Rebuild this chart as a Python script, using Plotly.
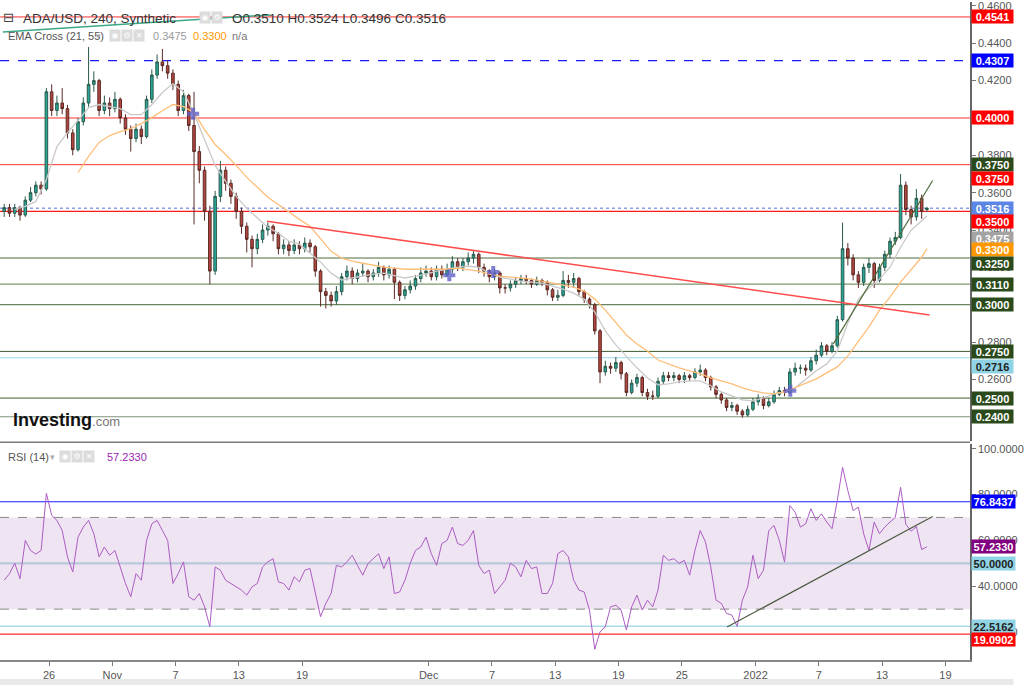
import plotly.graph_objects as go
import pandas as pd

# ---------------- DATA (ADA/USD; 12h resolution) ----------------
open_ = [
    0.350, 0.352, 0.349, 0.352, 0.348, 0.356, 0.360, 0.364, 0.362, 0.414,
    0.404, 0.408, 0.405, 0.392, 0.383, 0.398, 0.408, 0.418, 0.420, 0.404,
    0.408, 0.405, 0.410, 0.400, 0.394, 0.389, 0.394, 0.390, 0.410, 0.423,
    0.430, 0.428, 0.424, 0.418, 0.404, 0.412, 0.396, 0.382, 0.372, 0.350,
    0.318, 0.358, 0.372, 0.365, 0.358, 0.350, 0.342, 0.335, 0.330, 0.335,
    0.340, 0.342, 0.338, 0.330, 0.332, 0.329, 0.332, 0.330, 0.333, 0.331,
    0.318, 0.307, 0.305, 0.302, 0.307, 0.315, 0.318, 0.314, 0.317, 0.318,
    0.315, 0.317, 0.320, 0.316, 0.319, 0.312, 0.305, 0.308, 0.310, 0.314,
    0.317, 0.318, 0.315, 0.319, 0.316, 0.319, 0.323, 0.320, 0.323, 0.325,
    0.327, 0.320, 0.318, 0.315, 0.317, 0.309, 0.309, 0.311, 0.313, 0.314,
    0.313, 0.311, 0.313, 0.312, 0.308, 0.304, 0.305, 0.313, 0.312, 0.314,
    0.307, 0.303, 0.300, 0.286, 0.264, 0.267, 0.266, 0.269, 0.263, 0.253,
    0.258, 0.261, 0.253, 0.251, 0.251, 0.259, 0.262, 0.261, 0.262, 0.260,
    0.262, 0.261, 0.264, 0.265, 0.261, 0.256, 0.252, 0.249, 0.245, 0.246,
    0.243, 0.241, 0.244, 0.248, 0.250, 0.246, 0.248, 0.252, 0.254, 0.253,
    0.264, 0.266, 0.266, 0.265, 0.270, 0.273, 0.278, 0.275, 0.278, 0.292,
    0.330, 0.325, 0.316, 0.312, 0.320, 0.322, 0.313, 0.320, 0.327, 0.334,
    0.336, 0.364, 0.351, 0.347, 0.357, 0.3510,
]
high_ = [
    0.354, 0.354, 0.354, 0.353, 0.358, 0.363, 0.366, 0.366, 0.416, 0.418,
    0.412, 0.416, 0.407, 0.394, 0.400, 0.411, 0.438, 0.425, 0.421, 0.412,
    0.411, 0.414, 0.411, 0.402, 0.396, 0.397, 0.396, 0.412, 0.426, 0.434,
    0.437, 0.431, 0.426, 0.420, 0.415, 0.413, 0.414, 0.385, 0.374, 0.353,
    0.361, 0.377, 0.374, 0.367, 0.360, 0.352, 0.344, 0.337, 0.338, 0.343,
    0.344, 0.343, 0.339, 0.335, 0.334, 0.335, 0.334, 0.336, 0.335, 0.332,
    0.319, 0.309, 0.307, 0.310, 0.317, 0.321, 0.320, 0.319, 0.322, 0.319,
    0.319, 0.323, 0.321, 0.321, 0.320, 0.313, 0.310, 0.313, 0.316, 0.320,
    0.321, 0.320, 0.321, 0.321, 0.322, 0.326, 0.325, 0.325, 0.328, 0.329,
    0.328, 0.322, 0.319, 0.319, 0.318, 0.311, 0.313, 0.315, 0.316, 0.316,
    0.314, 0.315, 0.314, 0.313, 0.309, 0.308, 0.318, 0.316, 0.317, 0.315,
    0.308, 0.304, 0.301, 0.287, 0.270, 0.269, 0.272, 0.270, 0.264, 0.260,
    0.263, 0.262, 0.255, 0.254, 0.261, 0.264, 0.264, 0.264, 0.263, 0.264,
    0.263, 0.266, 0.268, 0.266, 0.262, 0.257, 0.253, 0.250, 0.248, 0.247,
    0.244, 0.246, 0.250, 0.252, 0.251, 0.250, 0.254, 0.256, 0.256, 0.266,
    0.269, 0.268, 0.268, 0.272, 0.276, 0.280, 0.279, 0.280, 0.294, 0.344,
    0.333, 0.327, 0.318, 0.322, 0.325, 0.323, 0.322, 0.329, 0.336, 0.339,
    0.370, 0.366, 0.353, 0.362, 0.359, 0.3524,
]
low_ = [
    0.347, 0.347, 0.347, 0.345, 0.347, 0.355, 0.358, 0.359, 0.361, 0.401,
    0.401, 0.402, 0.389, 0.380, 0.382, 0.396, 0.406, 0.414, 0.401, 0.402,
    0.401, 0.403, 0.397, 0.391, 0.382, 0.387, 0.386, 0.389, 0.408, 0.421,
    0.425, 0.421, 0.415, 0.401, 0.402, 0.393, 0.343, 0.365, 0.345, 0.311,
    0.316, 0.355, 0.361, 0.354, 0.346, 0.338, 0.328, 0.320, 0.327, 0.333,
    0.337, 0.334, 0.327, 0.327, 0.326, 0.327, 0.327, 0.328, 0.328, 0.315,
    0.299, 0.298, 0.299, 0.300, 0.305, 0.313, 0.311, 0.312, 0.315, 0.312,
    0.313, 0.315, 0.313, 0.314, 0.303, 0.302, 0.303, 0.306, 0.308, 0.312,
    0.315, 0.313, 0.313, 0.314, 0.315, 0.317, 0.318, 0.318, 0.321, 0.322,
    0.317, 0.315, 0.312, 0.313, 0.306, 0.306, 0.307, 0.309, 0.311, 0.311,
    0.309, 0.310, 0.310, 0.305, 0.302, 0.302, 0.304, 0.309, 0.309, 0.305,
    0.301, 0.298, 0.284, 0.258, 0.262, 0.263, 0.264, 0.260, 0.251, 0.252,
    0.256, 0.251, 0.249, 0.249, 0.250, 0.257, 0.259, 0.259, 0.258, 0.258,
    0.259, 0.260, 0.262, 0.259, 0.254, 0.250, 0.247, 0.243, 0.243, 0.241,
    0.2395, 0.240, 0.243, 0.246, 0.244, 0.245, 0.247, 0.251, 0.251, 0.252,
    0.262, 0.263, 0.262, 0.264, 0.268, 0.272, 0.273, 0.274, 0.277, 0.291,
    0.321, 0.313, 0.309, 0.310, 0.317, 0.309, 0.312, 0.318, 0.325, 0.332,
    0.335, 0.348, 0.343, 0.345, 0.346, 0.3496,
]
close_ = [
    0.352, 0.349, 0.352, 0.348, 0.356, 0.360, 0.364, 0.362, 0.414, 0.404,
    0.408, 0.405, 0.392, 0.383, 0.398, 0.408, 0.418, 0.420, 0.404, 0.408,
    0.405, 0.410, 0.400, 0.394, 0.389, 0.394, 0.390, 0.410, 0.423, 0.430,
    0.428, 0.424, 0.418, 0.404, 0.412, 0.396, 0.382, 0.372, 0.350, 0.318,
    0.358, 0.372, 0.365, 0.358, 0.350, 0.342, 0.335, 0.330, 0.335, 0.340,
    0.342, 0.338, 0.330, 0.332, 0.329, 0.332, 0.330, 0.333, 0.331, 0.318,
    0.307, 0.305, 0.302, 0.307, 0.315, 0.318, 0.314, 0.317, 0.318, 0.315,
    0.317, 0.320, 0.316, 0.319, 0.312, 0.305, 0.308, 0.310, 0.314, 0.317,
    0.318, 0.315, 0.319, 0.316, 0.319, 0.323, 0.320, 0.323, 0.325, 0.327,
    0.320, 0.318, 0.315, 0.317, 0.309, 0.309, 0.311, 0.313, 0.314, 0.313,
    0.311, 0.313, 0.312, 0.308, 0.304, 0.305, 0.313, 0.312, 0.314, 0.307,
    0.303, 0.300, 0.286, 0.264, 0.267, 0.266, 0.269, 0.263, 0.253, 0.258,
    0.261, 0.253, 0.251, 0.251, 0.259, 0.262, 0.261, 0.262, 0.260, 0.262,
    0.261, 0.264, 0.265, 0.261, 0.256, 0.252, 0.249, 0.245, 0.246, 0.243,
    0.241, 0.244, 0.248, 0.250, 0.246, 0.248, 0.252, 0.254, 0.253, 0.264,
    0.266, 0.266, 0.265, 0.270, 0.273, 0.278, 0.275, 0.278, 0.292, 0.330,
    0.325, 0.316, 0.312, 0.320, 0.322, 0.313, 0.320, 0.327, 0.334, 0.336,
    0.364, 0.351, 0.347, 0.357, 0.350, 0.3516,
]
# EMA values read once per day (every 2nd candle) plus the last candle
ema21 = [
    None,
    0.3511, 0.3527, 0.3553, 0.3671, 0.3847, 0.3922, 0.3986, 0.4056, 0.4072, 0.4061,
    0.4050, 0.4018, 0.4018, 0.4072, 0.4136, 0.4184, 0.4141, 0.4023, 0.3885, 0.3746,
    0.3660, 0.3580, 0.3516, 0.3463, 0.3415, 0.3383, 0.3340, 0.3324, 0.3276, 0.3228,
    0.3169, 0.3132, 0.3143, 0.3153, 0.3164, 0.3169, 0.3158, 0.3143, 0.3153, 0.3164,
    0.3180, 0.3190, 0.3201, 0.3206, 0.3201, 0.3169, 0.3148, 0.3137, 0.3126, 0.3121,
    0.3116, 0.3100, 0.3084, 0.3062, 0.3030, 0.2961, 0.2860, 0.2785, 0.2721, 0.2662,
    0.2608, 0.2571, 0.2576, 0.2587, 0.2592, 0.2592, 0.2566, 0.2533, 0.2512, 0.2490,
    0.2485, 0.2501, 0.2523, 0.2533, 0.2555, 0.2603, 0.2646, 0.2683, 0.2752, 0.2902,
    0.3030, 0.3089, 0.3137, 0.3201, 0.3308, 0.3399, 0.3447,
    0.3475,
]
ema55 = [
    None, None, None, None, None, None, None,
    0.3708, 0.3794, 0.3869, 0.3906,
    0.3927, 0.3943, 0.3970, 0.4002, 0.4039, 0.4072, 0.4061, 0.4029, 0.3938, 0.3858,
    0.3804, 0.3746, 0.3682, 0.3628, 0.3575, 0.3537, 0.3495, 0.3457, 0.3420, 0.3356,
    0.3286, 0.3249, 0.3233, 0.3222, 0.3212, 0.3201, 0.3196, 0.3190, 0.3190, 0.3190,
    0.3190, 0.3190, 0.3196, 0.3190, 0.3180, 0.3164, 0.3153, 0.3148, 0.3143, 0.3137,
    0.3126, 0.3116, 0.3105, 0.3094, 0.3073, 0.3030, 0.2971, 0.2902, 0.2838, 0.2790,
    0.2752, 0.2704, 0.2683, 0.2662, 0.2646, 0.2630, 0.2608, 0.2592, 0.2576, 0.2555,
    0.2539, 0.2528, 0.2523, 0.2533, 0.2555, 0.2581, 0.2603, 0.2635, 0.2667, 0.2726,
    0.2806, 0.2881, 0.2971, 0.3041, 0.3121, 0.3190, 0.3254,
    0.3300,
]
rsi = [
    42.6, 45.5, 50.0, 43.3, 60.0, 55.6, 54.0, 55.6, 80.5, 70.9,
    68.7, 64.3, 52.8, 46.2, 61.4, 65.8, 68.7, 62.9, 52.8, 57.1,
    53.5, 55.6, 48.4, 41.2, 35.4, 45.5, 42.6, 60.0, 67.2, 68.7,
    64.3, 60.0, 41.2, 45.5, 50.6, 35.4, 33.9, 36.8, 31.0, 22.3,
    48.4, 47.0, 42.6, 41.2, 39.7, 38.3, 36.1, 39.7, 41.2, 48.4,
    50.6, 52.0, 41.9, 41.2, 38.3, 44.1, 41.9, 47.0, 47.7, 36.8,
    26.7, 32.5, 36.8, 49.1, 48.4, 50.6, 53.5, 49.1, 44.8, 49.9,
    52.0, 54.2, 47.7, 52.8, 36.8, 37.5, 42.6, 50.0, 55.6, 57.1,
    61.4, 54.2, 49.1, 58.6, 60.0, 65.8, 58.6, 57.8, 60.0, 64.3,
    49.1, 45.5, 47.0, 36.8, 39.7, 42.6, 50.0, 48.4, 44.1, 51.3,
    47.7, 48.4, 36.8, 36.8, 41.2, 54.2, 55.6, 52.8, 42.6, 38.3,
    37.5, 29.6, 12.5, 20.1, 22.3, 31.0, 31.7, 29.6, 20.9, 31.0,
    36.1, 29.6, 33.9, 31.0, 38.3, 53.5, 51.3, 52.0, 50.0, 51.3,
    44.8, 55.6, 64.3, 59.3, 48.4, 33.9, 32.5, 28.1, 27.4, 22.5,
    33.9, 39.7, 53.5, 43.3, 47.0, 64.3, 66.5, 60.0, 50.5, 75.2,
    72.3, 65.8, 67.2, 73.8, 68.7, 71.6, 68.0, 65.1, 77.4, 91.9,
    81.7, 73.0, 74.5, 62.9, 55.6, 68.0, 62.9, 65.8, 68.0, 70.0,
    83.2, 67.0, 64.0, 66.0, 56.0, 57.233,
]
assert len(open_) == len(high_) == len(low_) == len(close_) == len(rsi) == 176
assert len(ema21) == len(ema55) == 89

# horizontal levels (price)
level_prices = [0.4541, 0.4307, 0.4000, 0.3750, 0.3516, 0.3500, 0.3250,
                0.3110, 0.3000, 0.2750, 0.2716, 0.2500, 0.2400]
rsi_levels = [76.8437, 50.0, 22.5162, 19.0902]
last_rsi = 57.2330

# drawn trend lines (endpoints)
red_trend_dates = ["2021-11-15 16:00", "2022-01-17 12:00"]
red_trend_prices = [0.3447, 0.2945]
green_trend_dates = ["2022-01-08 09:00", "2022-01-17 19:00"]
green_trend_prices = [0.2790, 0.3665]
teal_trend_dates = ["2021-10-21 15:00", "2021-11-16 00:00"]
teal_trend_prices = [0.4461, 0.4552]
rsi_trend_dates = ["2021-12-29 07:00", "2022-01-17 19:00"]
rsi_trend_values = [22.2, 70.4]

# EMA-cross markers
cross_dates = ["2021-11-08 16:00", "2021-12-02 23:00", "2021-12-07 03:00", "2022-01-04 07:00"]
cross_prices = [0.4023, 0.3158, 0.3175, 0.2539]

tick_dates = ["2021-10-26", "2021-11-01", "2021-11-07", "2021-11-13", "2021-11-19",
              "2021-12-01", "2021-12-07", "2021-12-13", "2021-12-19", "2021-12-25",
              "2022-01-01", "2022-01-07", "2022-01-13", "2022-01-19"]
tick_labels = ["26", "Nov", "7", "13", "19", "Dec", "7", "13", "19", "25",
               "2022", "7", "13", "19"]

# ---------------- FIGURE ----------------
dates = pd.date_range("2021-10-21 18:00", periods=len(close_), freq="12h")
ema_dates = list(dates[::2]) + [dates[-1]]

W, H = 1024, 685
ML, MR, MT, MB = 0, 44, 0, 25
PW, PH = W - ML - MR, H - MT - MB


def px(xp):
    return xp / PW


def py(yp):
    return 1 - yp / PH


FONT = "Liberation Sans"
fig = go.Figure()

fig.add_trace(go.Candlestick(
    x=dates, open=open_, high=high_, low=low_, close=close_,
    xaxis="x", yaxis="y",
    increasing=dict(fillcolor="#26a69a", line=dict(color="#2c5a4a", width=1)),
    decreasing=dict(fillcolor="#b5463f", line=dict(color="#5a2a25", width=1)),
    whiskerwidth=0, hoverinfo="skip", showlegend=False))

fig.add_trace(go.Scatter(x=ema_dates, y=ema21, mode="lines", xaxis="x", yaxis="y",
                         line=dict(color="#c9c9c9", width=1.3), hoverinfo="skip",
                         showlegend=False))
fig.add_trace(go.Scatter(x=ema_dates, y=ema55, mode="lines", xaxis="x", yaxis="y",
                         line=dict(color="#ffbe78", width=1.3), hoverinfo="skip",
                         showlegend=False))
fig.add_trace(go.Scatter(x=red_trend_dates, y=red_trend_prices, mode="lines",
                         xaxis="x", yaxis="y", line=dict(color="#ff4d4d", width=1.5),
                         hoverinfo="skip", showlegend=False))
fig.add_trace(go.Scatter(x=green_trend_dates, y=green_trend_prices, mode="lines",
                         xaxis="x", yaxis="y", line=dict(color="#4f6b3a", width=1.2),
                         hoverinfo="skip", showlegend=False))
fig.add_trace(go.Scatter(x=teal_trend_dates, y=teal_trend_prices, mode="lines",
                         xaxis="x", yaxis="y", line=dict(color="#3aa889", width=1.5),
                         hoverinfo="skip", showlegend=False))
fig.add_trace(go.Scatter(x=cross_dates, y=cross_prices, mode="markers",
                         xaxis="x", yaxis="y",
                         marker=dict(symbol="cross", size=10, color="rgba(95,95,200,0.8)",
                                     line=dict(width=0)),
                         hoverinfo="skip", showlegend=False))

fig.add_trace(go.Scatter(x=dates, y=rsi, mode="lines", xaxis="x2", yaxis="y2",
                         line=dict(color="#ad5cc4", width=1), hoverinfo="skip",
                         showlegend=False))
fig.add_trace(go.Scatter(x=rsi_trend_dates, y=rsi_trend_values, mode="lines",
                         xaxis="x2", yaxis="y2", line=dict(color="#4a5a40", width=1.2),
                         hoverinfo="skip", showlegend=False))

shapes = []
level_styles = [
    ("#ff3030", "solid", 1), ("#1a1aff", "dash", 1.2), ("#ff3030", "solid", 1),
    ("#ff3030", "solid", 1), ("#8b9de3", "dot", 1.5), ("#ff1a1a", "solid", 1.4),
    ("#4d6a3d", "solid", 1), ("#7e9671", "solid", 1.2), ("#6a845d", "solid", 1.2),
    ("#3c5a2e", "solid", 1), ("#9ad6e6", "solid", 1.2), ("#3d6328", "solid", 1),
    ("#7f927a", "solid", 1.2),
]
for lv, (col, dash, w) in zip(level_prices, level_styles):
    shapes.append(dict(type="line", xref="paper", yref="y", x0=0, x1=1, y0=lv, y1=lv,
                       line=dict(color=col, width=w, dash=dash), layer="below"))

# RSI band + levels
shapes.append(dict(type="rect", xref="paper", yref="y2", x0=0, x1=1, y0=30, y1=70,
                   fillcolor="#efe4f1", line=dict(width=0), layer="below"))
for v in (30, 70):
    shapes.append(dict(type="line", xref="paper", yref="y2", x0=0, x1=1, y0=v, y1=v,
                       line=dict(color="#8a8a8a", width=1, dash="dash"), layer="below"))
rsi_styles = [("#1a1aff", 1.2), ("#b9c8da", 2.2), ("#a9dbe6", 1.5), ("#ff2a2a", 1.2)]
for lv, (col, w) in zip(rsi_levels, rsi_styles):
    shapes.append(dict(type="line", xref="paper", yref="y2", x0=0, x1=1, y0=lv, y1=lv,
                       line=dict(color=col, width=w), layer="below"))

# pane separator and bottom strip
shapes.append(dict(type="line", xref="paper", yref="paper", x0=0, x1=1,
                   y0=py(441.5), y1=py(441.5), line=dict(color="#7a7a7a", width=1.5)))
shapes.append(dict(type="rect", xref="paper", yref="paper", x0=0, x1=W / PW,
                   y0=py(685), y1=py(679), fillcolor="#e9e9e9", line=dict(width=0)))

annotations = []


def label(text, yval, yref, bg, fg="white", yshift=0, width=41):
    annotations.append(dict(
        text="<b>%s</b>" % text, xref="paper", yref=yref, x=1, y=yval,
        xanchor="left", yanchor="middle", xshift=1, yshift=yshift, showarrow=False,
        bgcolor=bg, font=dict(family=FONT, size=11, color=fg),
        width=width, height=13, borderpad=0, align="center"))


GREEN_BOX = "#2b4a1b"
label("0.4541", level_prices[0], "y", "#ff0000")
label("0.4307", level_prices[1], "y", "#0000ff")
label("0.4000", level_prices[2], "y", "#ff0000")
label("0.3750", level_prices[3], "y", GREEN_BOX)
label("0.3750", level_prices[3], "y", "#ff0000", yshift=-14)
label("0.3516", level_prices[4], "y", "#5b86e5")
label("0.3500", level_prices[5], "y", "#ff0000", yshift=-10)
label("%.4f" % ema21[-1], ema21[-1], "y", "#a3a3a3", yshift=-22)
label("%.4f" % ema55[-1], ema55[-1], "y", "#ff9800", yshift=-1)
label("0.3250", level_prices[6], "y", GREEN_BOX, yshift=-5)
label("0.3110", level_prices[7], "y", GREEN_BOX)
label("0.3000", level_prices[8], "y", GREEN_BOX)
label("0.2750", level_prices[9], "y", GREEN_BOX)
label("0.2716", level_prices[10], "y", "#8fd3e4", fg="#222222", yshift=-9)
label("0.2500", level_prices[11], "y", GREEN_BOX)
label("0.2400", level_prices[12], "y", GREEN_BOX)

label("76.8437", rsi_levels[0], "y2", "#0000ff", width=43)
label("%.4f" % last_rsi, last_rsi, "y2", "#800080", width=43)
label("50.0000", rsi_levels[1], "y2", "#8fd3e4", fg="#222222", width=43)
label("22.5162", rsi_levels[2], "y2", "#8fd3e4", fg="#222222", width=43)
label("19.0902", rsi_levels[3], "y2", "#ff0000", yshift=-5, width=43)


def text(t, xpx, ypx, size, color, family=FONT, anchor="left"):
    annotations.append(dict(text=t, xref="paper", yref="paper", x=px(xpx), y=py(ypx),
                            xanchor=anchor, yanchor="middle", showarrow=False,
                            font=dict(family=family, size=size, color=color)))


def icon(xpx, ypx, sym):
    annotations.append(dict(text=sym, xref="paper", yref="paper", x=px(xpx), y=py(ypx),
                            xanchor="center", yanchor="middle", showarrow=False,
                            bgcolor="#dcdcdc", width=10, height=11, borderpad=0,
                            font=dict(family="DejaVu Sans", size=8, color="white")))


text("⊟", 9, 16, 13, "#444", family="DejaVu Sans", anchor="center")
text("ADA/USD, 240, Synthetic", 21, 17, 13.5, "#333")
icon(207, 16, "◉")
icon(219, 16, "⚙")
text("O%.4f H%.4f L%.4f C%.4f" % (open_[-1], high_[-1], low_[-1], close_[-1]),
     232, 17, 13.5, "#333")
text("EMA Cross (21, 55)", 6, 34, 11, "#555")
text("▾", 95, 34, 9, "#aaa", family="DejaVu Sans")
icon(116, 34, "◉")
icon(128, 34, "⚙")
icon(140, 34, "✕")
text("%.4f" % ema21[-1], 153, 34, 11, "#9a9a9a")
text("%.4f" % ema55[-1], 193, 34, 11, "#ff9800")
text("n/a", 232, 34, 11, "#777")

text("RSI (14)", 6, 456, 11, "#555")
text("▾", 48, 456, 9, "#aaa", family="DejaVu Sans")
icon(66, 456, "◉")
icon(78, 456, "⚙")
icon(90, 456, "✕")
text("%.4f" % last_rsi, 106, 456, 11, "#9c27b0")

text("<b>Investing</b><span style='font-size:13px;color:#777'>.com</span>",
     11, 419, 18, "#111")

axis_font = dict(family=FONT, size=11, color="#555")
x_range = ["2021-10-21 08:26", "2022-01-21 08:00"]
fig.update_layout(
    width=W, height=H, margin=dict(l=ML, r=MR, t=MT, b=MB),
    paper_bgcolor="white", plot_bgcolor="white",
    showlegend=False, hovermode=False,
    xaxis=dict(domain=[0, 1], anchor="y", range=x_range, type="date",
               showticklabels=False, showgrid=False, zeroline=False,
               rangeslider=dict(visible=False), ticks=""),
    xaxis2=dict(domain=[0, 1], anchor="y2", range=x_range, type="date", matches="x",
                tickmode="array", tickvals=tick_dates, ticktext=tick_labels,
                ticks="outside", ticklen=4, tickcolor="#777", tickfont=axis_font,
                showline=True, linecolor="#888", linewidth=1.5,
                showgrid=False, zeroline=False),
    yaxis=dict(domain=[1 - 440 / PH, 1], anchor="x", side="right",
               range=[0.2272, 0.4621], tick0=0, dtick=0.02, tickformat=".4f",
               ticks="outside", ticklen=4, tickcolor="#777", tickfont=axis_font,
               ticklabeloverflow="allow",
               showline=True, linecolor="#666", linewidth=1.5,
               showgrid=False, zeroline=False),
    yaxis2=dict(domain=[0, 1 - 443 / PH], anchor="x2", side="right",
                range=[7.8, 102.2], tick0=0, dtick=20, tickformat=".4f",
                ticks="outside", ticklen=4, tickcolor="#777", tickfont=axis_font,
                ticklabeloverflow="allow",
                showline=True, linecolor="#666", linewidth=1.5,
                showgrid=False, zeroline=False),
    shapes=shapes, annotations=annotations,
)

fig.write_html(
    "out.html",
    config={"displayModeBar": False},
    post_script="document.body.style.margin='0';document.body.style.overflow='hidden';",
)
